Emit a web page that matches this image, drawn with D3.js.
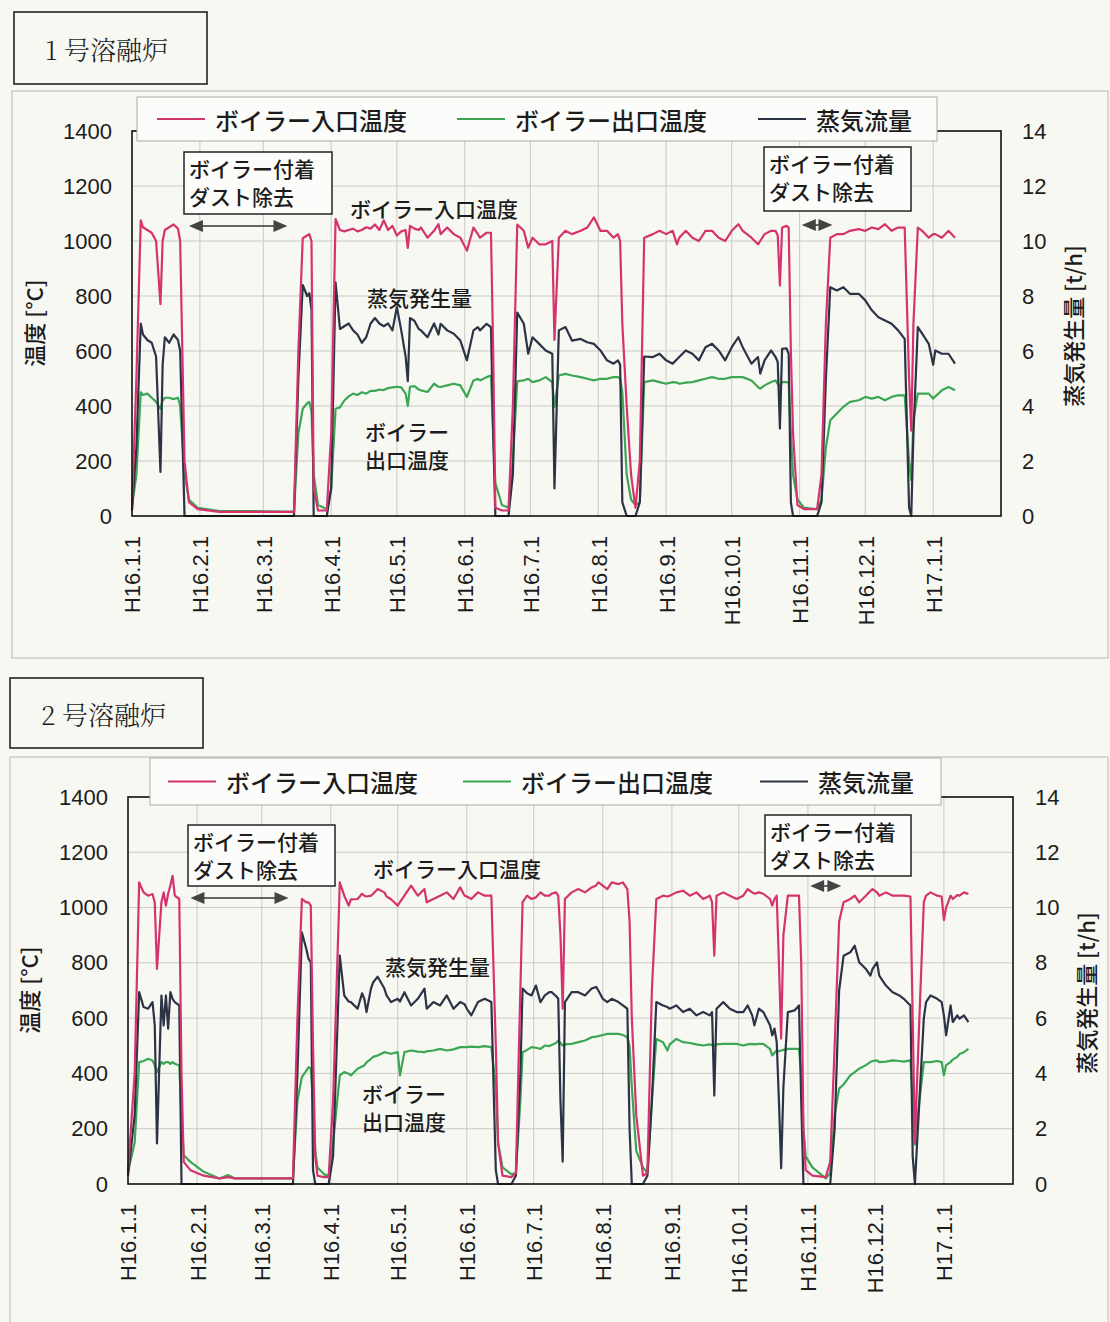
<!DOCTYPE html>
<html>
<head>
<meta charset="utf-8">
<script src="https://cdn.jsdelivr.net/npm/d3@7"></script>
<style>
  body { margin: 0; background: #f8f8f3; }
  text { font-family: "Noto Sans CJK JP", sans-serif; fill: #1c1c1c; font-weight: 500; }
</style>
</head>
<body>
<div id="chart"></div>
<script>
// Tick labels and series names
const monthLabels = ["H16.1.1", "H16.2.1", "H16.3.1", "H16.4.1", "H16.5.1", "H16.6.1", "H16.7.1",
                     "H16.8.1", "H16.9.1", "H16.10.1", "H16.11.1", "H16.12.1", "H17.1.1"];
const tempTicks = [0, 200, 400, 600, 800, 1000, 1200, 1400];
const steamTicks = [0, 2, 4, 6, 8, 10, 12, 14];
const seriesNames = ["ボイラー入口温度", "ボイラー出口温度", "蒸気流量"];
const colors = { inlet: "#d5336d", outlet: "#3ba653", steam: "#2c3345" };

// No.1 furnace: days since H16.1.1, inlet/outlet temperature [C], steam [t/h]
const days1 = [
  0, 2, 4, 5, 7, 9, 11, 13, 14, 15, 17, 19, 21, 22,
  24, 26, 30, 40, 55, 74,
  76, 78, 80, 81, 82, 83, 85, 89, 91,
  93, 95, 97, 99, 101, 103, 105, 107, 109, 111, 113, 115, 117, 119, 121, 123, 125, 126, 127, 129,
  131, 132, 135, 138, 140, 141, 144, 147, 150, 153, 156, 158, 159, 162, 164,
  165, 166, 169, 172, 174,
  176, 179, 181, 183, 186, 189, 192, 193, 195, 198, 201, 205, 208, 211, 214, 217, 220, 222, 223,
  224, 226, 228, 230, 232,
  234, 238, 241, 244, 247, 249, 250, 253, 256, 259, 262, 265, 268, 271, 274, 277, 279, 283, 286, 287,
  289, 292, 294, 295, 296, 297, 299, 300,
  301, 302, 304, 307, 313, 315, 317,
  319, 322, 325, 328, 332, 335, 338, 341, 344, 347, 350, 353, 355, 356, 357, 359, 361, 364, 366, 367,
  370, 373, 376
];
const inlet1 = [
  30, 500, 1075, 1050, 1040, 1030, 1000, 770, 1000, 1040, 1050, 1060, 1045, 1000,
  200, 50, 25, 15, 15, 15,
  600, 1010, 1020, 1025, 1000, 100, 20, 20, 300,
  1080, 1040, 1035, 1040, 1045, 1035, 1040, 1050, 1045, 1060, 1040, 1075, 1040, 1055, 1020, 1035, 1040, 975, 1055, 1045,
  1040, 1049, 1012, 1037, 1061, 1025, 1049, 1025, 1012, 965, 1049, 1025, 1012, 1030, 1030,
  600, 30, 20, 20, 400,
  1060, 1037, 976, 1012, 988, 988, 1000, 640, 1012, 1037, 1025, 1037, 1049, 1086, 1037, 1037, 1012, 1025, 1000,
  700, 400, 150, 30, 200,
  1012, 1025, 1037, 1025, 1037, 988, 1012, 1037, 1012, 1000, 1037, 1037, 1012, 1000, 1037, 1061, 1037, 1012, 988, 1000,
  1025, 1037, 1037, 1020, 838, 1049, 1055, 1049,
  600, 300, 40, 25, 25, 150, 700,
  1012, 1025, 1025, 1037, 1043, 1037, 1049, 1043, 1061, 1037, 1049, 1049, 500, 310, 700, 1049, 1037, 1012, 1025, 1025,
  1012, 1037, 1012
];
const outlet1 = [
  35, 150, 450, 440, 445, 430, 415, 390, 420, 430, 430, 425, 430, 400,
  150, 60, 30, 18, 18, 15,
  300, 390, 410, 415, 380, 150, 40, 25, 100,
  390, 395, 420, 435, 445, 440, 450, 445, 455, 455, 460, 458, 465, 468, 470, 468, 445, 400, 470, 472,
  460, 457, 451, 481, 470, 469, 475, 481, 475, 433, 493, 499, 493, 505, 511,
  300, 120, 40, 30, 200,
  490, 493, 499, 487, 493, 505, 487, 397, 511, 517, 511, 505, 499, 493, 499, 499, 505, 505, 500,
  450, 150, 60, 40, 50,
  487, 493, 487, 481, 487, 485, 481, 485, 487, 493, 499, 505, 499, 499, 505, 505, 505, 493, 469, 463,
  475, 487, 493, 480, 470, 487, 487, 485,
  300, 150, 60, 30, 25, 60, 250,
  348, 373, 397, 415, 421, 433, 427, 433, 421, 433, 439, 439, 200, 130, 350, 445, 445, 445, 427, 435,
  457, 469, 457
];
const steam1 = [
  0.2, 2.5, 7.0, 6.6, 6.4, 6.3, 5.8, 1.6, 5.5, 6.5, 6.3, 6.6, 6.4, 6.0,
  0, 0, 0, 0, 0, 0,
  5, 8.4, 8.0, 8.1, 7.5, 0, 0, 0, 1,
  8.5, 6.8, 6.9, 7.0, 6.75, 6.6, 6.3, 6.5, 7.0, 7.2, 7.0, 6.9, 7.0, 6.75, 7.6, 6.75, 5.8, 4.9, 7.2, 7.1,
  6.8, 6.75, 6.5, 7.0, 6.6, 6.99, 6.75, 6.63, 6.38, 5.66, 6.75, 6.87, 6.75, 6.99, 6.87,
  3, 0, 0, 0, 1.5,
  7.4, 6.99, 5.9, 6.5, 6.26, 6.02, 5.9, 1.0, 6.75, 6.87, 6.38, 6.44, 6.32, 6.26, 6.02, 5.66, 5.54, 5.66, 5.5,
  0.5, 0, 0, 0, 0.5,
  5.8, 5.78, 5.9, 5.66, 5.54, 5.7, 5.78, 6.02, 5.9, 5.66, 6.14, 6.26, 6.02, 5.66, 6.14, 6.5, 6.14, 5.54, 5.78, 5.18,
  5.66, 6.02, 5.78, 5.6, 3.18, 6.08, 6.1, 5.9,
  0.5, 0, 0, 0, 0, 0.5, 5,
  8.32, 8.2, 8.32, 8.08, 8.08, 7.84, 7.48, 7.23, 7.11, 6.99, 6.75, 6.44, 0.3, 0, 3, 6.87, 6.63, 6.26, 5.5, 6.02,
  5.9, 5.9, 5.54
];
const dust1 = [[26, 71], [306, 320]];

// No.2 furnace
const days2 = [
  0, 3, 5, 7, 9, 11, 12, 13, 15, 16, 17, 18, 19, 20, 21, 23,
  24, 25, 28, 34, 41, 45, 48, 60, 74,
  76, 78, 80, 81, 82, 83, 84, 85, 88, 90, 92,
  95, 97, 99, 100, 103, 105, 106, 107, 109, 110, 112, 115, 116, 118, 121, 122, 124, 127, 130, 133,
  134, 137, 140, 143, 146, 149, 151, 152, 154, 157, 160, 163,
  165, 166, 168, 172, 174,
  176, 177, 179, 181, 183, 185, 187, 189, 190, 192, 193, 194, 195, 196, 199, 202, 205, 208, 210, 211,
  213, 215, 217, 220, 222, 224,
  225, 226, 228, 231, 233, 235,
  237, 240, 242, 243, 246, 249, 252, 255, 258, 261, 262, 263, 264, 267, 270, 273, 276, 278, 280, 281,
  283, 285, 288, 289, 290, 291, 292, 293, 294, 296, 299, 301,
  302, 303, 304, 307, 313, 315, 317,
  319, 321, 324, 326, 328, 331, 333, 334, 336, 337, 340, 343, 346, 348, 351, 352, 353, 355, 357, 358,
  360, 363, 365, 366, 367, 369, 370, 372, 373, 375, 377
];
const inlet2 = [
  44, 400, 1091, 1055, 1043, 1049, 1019, 778, 1019, 1055, 1007, 1050, 1080, 1115, 1043, 1031,
  400, 80, 50, 30, 20, 25, 20, 20, 20,
  600, 1031, 1019, 1019, 1007, 500, 100, 30, 25, 25, 300,
  1091, 1043, 1007, 1030, 1031, 1050, 1043, 1040, 1043, 1050, 1067, 1055, 1040, 1030, 1007, 1020, 1043, 1079, 1043, 1067,
  1019, 1031, 1043, 1055, 1031, 1073, 1043, 1040, 1031, 1055, 1043, 1043,
  500, 150, 30, 25, 40,
  700, 1019, 1043, 1031, 1037, 1055, 1043, 1043, 1050, 1055, 1043, 900, 634, 1031, 1055, 1067, 1055, 1073, 1080, 1091,
  1079, 1067, 1091, 1085, 1091, 1067,
  950, 600, 250, 30, 40, 700,
  1031, 1043, 1040, 1043, 1055, 1061, 1043, 1055, 1031, 1043, 1019, 826, 1043, 1055, 1043, 1031, 1043, 1067, 1055, 1050,
  1055, 1050, 1031, 1007, 1031, 1043, 800, 526, 900, 1043, 1043, 1043,
  800, 200, 50, 30, 25, 80, 500,
  950, 1019, 1031, 1043, 1019, 1043, 1060, 1067, 1055, 1043, 1055, 1043, 1043, 1043, 1040, 600, 150, 600, 1020, 1043,
  1055, 1043, 1040, 955, 1000, 1043, 1031, 1045, 1043, 1055, 1049
];
const outlet2 = [
  44, 150, 441, 445, 453, 447, 429, 405, 441, 435, 441, 441, 435, 441, 435, 429,
  250, 104, 80, 44, 20, 32, 20, 20, 20,
  300, 387, 410, 423, 417, 300, 120, 60, 35, 30, 150,
  393, 405, 399, 393, 417, 425, 429, 440, 453, 460, 465, 477, 475, 471, 477, 393, 477, 483, 479, 477,
  480, 483, 489, 483, 487, 495, 495, 495, 497, 495, 499, 495,
  350, 150, 60, 35, 40,
  300, 477, 485, 495, 493, 489, 501, 499, 503, 510, 519, 510, 501, 505, 507, 513, 519, 531, 533, 535,
  539, 543, 543, 543, 539, 531,
  500, 350, 120, 60, 40, 300,
  525, 513, 483, 505, 525, 513, 510, 505, 501, 505, 503, 500, 505, 507, 507, 507, 501, 505, 507, 505,
  507, 507, 489, 465, 475, 483, 480, 483, 485, 489, 489, 489,
  400, 200, 100, 60, 20, 40, 250,
  345, 360, 393, 405, 417, 430, 441, 445, 447, 441, 443, 447, 445, 443, 447, 300, 142, 300, 441, 441,
  441, 445, 441, 393, 430, 441, 450, 460, 470, 477, 489
];
const steam2 = [
  0.3, 2.5, 6.94, 6.4, 6.34, 6.58, 5.74, 1.47, 6.82, 5.74, 6.82, 5.62, 6.94, 6.7, 6.58, 6.46,
  0, 0, 0, 0, 0, 0, 0, 0, 0,
  4, 9.1, 8.5, 8.14, 8.02, 0.5, 0, 0, 0, 0, 1,
  8.26, 6.82, 6.6, 6.58, 6.34, 6.9, 6.7, 6.22, 7.07, 7.3, 7.5, 7.07, 6.82, 6.58, 6.7, 6.6, 6.94, 6.46, 6.7, 7.07,
  6.34, 6.58, 6.46, 6.82, 6.34, 6.58, 6.5, 6.34, 6.1, 6.58, 6.7, 6.58,
  0.5, 0, 0, 0, 0.3,
  4, 7.07, 6.9, 6.82, 7.18, 6.58, 6.82, 6.94, 6.94, 6.8, 6.7, 3, 0.81, 6.58, 6.94, 6.94, 6.82, 7.07, 7.13, 7.0,
  6.7, 6.58, 6.7, 6.58, 6.46, 6.34,
  2, 0, 0, 0, 0.3, 3,
  6.58, 6.46, 6.4, 6.34, 6.46, 6.22, 6.34, 6.1, 6.22, 6.1, 6.22, 3.2, 6.34, 6.58, 6.34, 6.22, 6.22, 6.46, 6.1, 5.74,
  6.34, 6.22, 5.74, 5.38, 5.62, 5.14, 3, 0.57, 3.5, 6.22, 6.28, 6.46,
  3, 0, 0, 0, 0, 0, 2,
  7.0, 8.26, 8.38, 8.62, 8.02, 7.78, 7.54, 7.78, 8.02, 7.54, 7.18, 6.94, 6.82, 6.7, 6.46, 1, 0, 3, 6.0, 6.58,
  6.82, 6.7, 6.58, 6.1, 5.38, 6.46, 5.86, 6.1, 5.98, 6.1, 5.86
];
const dust2 = [[28, 72], [306, 320]];

const start = new Date(2004, 0, 1), end = new Date(2005, 1, 1);
const numFont = "'Liberation Sans', Arial, sans-serif";

const svg = d3.select("#chart")
  .append("svg")
    .attr("width", 1110)
    .attr("height", 1322);

function drawPanel(p) {
  const g = svg.append("g");

  // Outer frame and title box
  g.append("rect")
    .attr("x", p.frame[0]).attr("y", p.frame[1])
    .attr("width", p.frame[2]).attr("height", p.frame[3])
    .attr("fill", "none").attr("stroke", "#b8b8b4").attr("stroke-width", 1);
  g.append("rect")
    .attr("x", p.titleBox[0]).attr("y", p.titleBox[1])
    .attr("width", p.titleBox[2]).attr("height", p.titleBox[3])
    .attr("fill", "none").attr("stroke", "#222").attr("stroke-width", 1.6);
  g.append("text")
    .attr("x", p.titleBox[0] + 31).attr("y", p.titleBox[1] + p.titleBox[3] / 2)
    .attr("dominant-baseline", "central")
    .style("font-family", "'Noto Serif CJK JP', 'Noto Sans CJK JP', serif")
    .style("font-size", "26px").style("font-weight", 300)
    .text(p.title);

  // Scales
  const x = d3.scaleTime().domain([start, end]).range([p.left, p.right]);
  const y = d3.scaleLinear().domain([0, 1400]).range([p.bottom, p.top]);
  const y2 = d3.scaleLinear().domain([0, 14]).range([p.bottom, p.top]);
  const months = d3.timeMonth.range(start, end);

  // Grid
  g.append("g").selectAll("line")
    .data(months.slice(1))
    .join("line")
      .attr("x1", d => x(d)).attr("x2", d => x(d))
      .attr("y1", p.top).attr("y2", p.bottom)
      .attr("stroke", "#c9c9c6").attr("stroke-width", 1);
  g.append("g").selectAll("line")
    .data(tempTicks.slice(1))
    .join("line")
      .attr("x1", p.left).attr("x2", p.right)
      .attr("y1", d => y(d)).attr("y2", d => y(d))
      .attr("stroke", "#c9c9c6").attr("stroke-width", 1);

  // Axes
  const xAxis = g.append("g")
    .attr("transform", `translate(0,${p.bottom})`)
    .call(d3.axisBottom(x).tickValues(months).tickSize(0).tickFormat((d, i) => monthLabels[i]));
  xAxis.select(".domain").remove();
  xAxis.selectAll("text")
    .attr("transform", "rotate(-90)")
    .attr("x", -20).attr("y", 0).attr("dy", "0.36em")
    .style("text-anchor", "end")
    .style("font-family", numFont)
    .style("font-weight", 400)
    .style("font-size", "22px");

  const yAxis = g.append("g")
    .attr("transform", `translate(${p.left},0)`)
    .call(d3.axisLeft(y).tickValues(tempTicks).tickSize(0).tickPadding(20).tickFormat(d3.format("d")));
  yAxis.select(".domain").remove();
  yAxis.selectAll("text")
    .style("font-family", numFont)
    .style("font-weight", 400)
    .style("font-size", "22px");

  const yAxis2 = g.append("g")
    .attr("transform", `translate(${p.right},0)`)
    .call(d3.axisRight(y2).tickValues(steamTicks).tickSize(0).tickPadding(p.rightPad));
  yAxis2.select(".domain").remove();
  yAxis2.selectAll("text")
    .style("font-family", numFont)
    .style("font-weight", 400)
    .style("font-size", "22px");

  // Axis titles
  g.append("text")
    .attr("transform", `translate(${p.leftTitle[0]},${p.leftTitle[1]}) rotate(-90)`)
    .attr("text-anchor", "middle").attr("dominant-baseline", "central")
    .style("font-size", "22px")
    .text("温度 [°C]");
  g.append("text")
    .attr("transform", `translate(${p.rightTitle[0]},${p.rightTitle[1]}) rotate(-90)`)
    .attr("text-anchor", "middle").attr("dominant-baseline", "central")
    .style("font-size", "22px")
    .text("蒸気発生量 [t/h]");

  // Series
  const dates = p.days.map(d => d3.timeDay.offset(start, d));
  const tempLine = d3.line().x((d, i) => x(dates[i])).y(d => y(d));
  const steamLine = d3.line().x((d, i) => x(dates[i])).y(d => y2(d));

  g.append("path").datum(p.outlet)
    .attr("d", tempLine).attr("fill", "none")
    .attr("stroke", colors.outlet).attr("stroke-width", 2.2).attr("stroke-linejoin", "round");
  g.append("path").datum(p.steam)
    .attr("d", steamLine).attr("fill", "none")
    .attr("stroke", colors.steam).attr("stroke-width", 2.2).attr("stroke-linejoin", "round");
  g.append("path").datum(p.inlet)
    .attr("d", tempLine).attr("fill", "none")
    .attr("stroke", colors.inlet).attr("stroke-width", 2.2).attr("stroke-linejoin", "round");

  // Plot frame
  g.append("rect")
    .attr("x", p.left).attr("y", p.top)
    .attr("width", p.right - p.left).attr("height", p.bottom - p.top)
    .attr("fill", "none").attr("stroke", "#111").attr("stroke-width", 1.6);

  // Legend
  const lg = g.append("g");
  lg.append("rect")
    .attr("x", p.legendBox[0]).attr("y", p.legendBox[1])
    .attr("width", p.legendBox[2]).attr("height", p.legendBox[3])
    .attr("fill", "#fcfcfa").attr("stroke", "#aaa").attr("stroke-width", 1);
  const ly = p.legendBox[1] + p.legendBox[3] / 2;
  const legendColors = [colors.inlet, colors.outlet, colors.steam];
  p.legendX.forEach((lx, i) => {
    lg.append("line")
      .attr("x1", lx).attr("x2", lx + 48).attr("y1", ly).attr("y2", ly)
      .attr("stroke", legendColors[i]).attr("stroke-width", 2);
    lg.append("text")
      .attr("x", lx + 58).attr("y", ly)
      .attr("dominant-baseline", "central")
      .style("font-size", "24px")
      .text(seriesNames[i]);
  });

  // Dust removal annotations
  p.annBoxes.forEach((b, i) => {
    g.append("rect")
      .attr("x", b[0]).attr("y", b[1]).attr("width", b[2]).attr("height", b[3])
      .attr("fill", "#fcfcfa").attr("stroke", "#222").attr("stroke-width", 1.5);
    ["ボイラー付着", "ダスト除去"].forEach((t, k) => {
      g.append("text")
        .attr("x", b[0] + 5).attr("y", b[1] + 16 + k * 28)
        .attr("dominant-baseline", "central")
        .style("font-size", "21px")
        .text(t);
    });
    const x1 = x(d3.timeDay.offset(start, p.dust[i][0]));
    const x2 = x(d3.timeDay.offset(start, p.dust[i][1]));
    const ay = p.arrowY[i];
    g.append("line")
      .attr("x1", x1 + 10).attr("x2", x2 - 10).attr("y1", ay).attr("y2", ay)
      .attr("stroke", "#333").attr("stroke-width", 1.5);
    g.append("path")
      .attr("d", `M${x1},${ay}L${x1 + 14},${ay - 6}L${x1 + 14},${ay + 6}Z`)
      .attr("fill", "#444");
    g.append("path")
      .attr("d", `M${x2},${ay}L${x2 - 14},${ay - 6}L${x2 - 14},${ay + 6}Z`)
      .attr("fill", "#444");
  });

  // Series labels on the plot
  p.labels.forEach(l => {
    g.append("text")
      .attr("x", l[0]).attr("y", l[1])
      .attr("dominant-baseline", "central")
      .style("font-size", "21px")
      .text(l[2]);
  });
}

drawPanel({
  title: "1 号溶融炉",
  frame: [12, 91, 1096, 567],
  titleBox: [14, 12, 193, 72],
  left: 132, right: 1001, top: 131, bottom: 516, rightPad: 21,
  leftTitle: [33, 323], rightTitle: [1072, 326],
  legendBox: [137, 97, 800, 44], legendX: [157, 457, 758],
  annBoxes: [[184, 152, 148, 62], [764, 147, 147, 64]],
  arrowY: [226, 225],
  labels: [[350, 208, "ボイラー入口温度"], [367, 297, "蒸気発生量"], [365, 431, "ボイラー"], [365, 459, "出口温度"]],
  days: days1, inlet: inlet1, outlet: outlet1, steam: steam1, dust: dust1
});

drawPanel({
  title: "2 号溶融炉",
  frame: [10, 757, 1098, 580],
  titleBox: [10, 678, 193, 70],
  left: 128, right: 1013, top: 797, bottom: 1184, rightPad: 22,
  leftTitle: [28, 990], rightTitle: [1085, 993],
  legendBox: [150, 758, 791, 47], legendX: [168, 463, 760],
  annBoxes: [[188, 825, 147, 61], [765, 815, 146, 61]],
  arrowY: [898, 886],
  labels: [[373, 868, "ボイラー入口温度"], [385, 966, "蒸気発生量"], [362, 1093, "ボイラー"], [362, 1121, "出口温度"]],
  days: days2, inlet: inlet2, outlet: outlet2, steam: steam2, dust: dust2
});
</script>
</body>
</html>
